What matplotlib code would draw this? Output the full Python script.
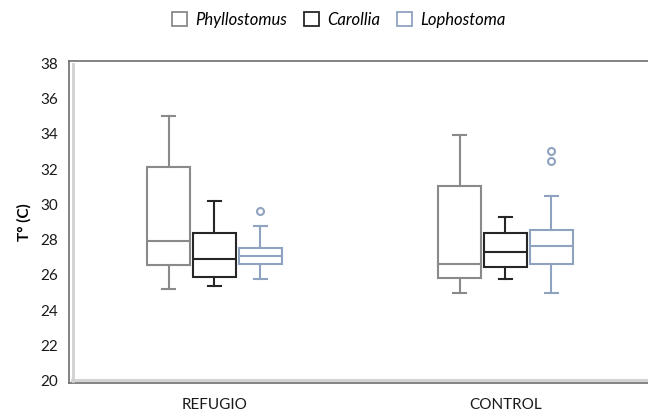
import matplotlib.pyplot as plt
from matplotlib.patches import Patch
from matplotlib.lines import Line2D

# summary values (deg C)
groups = ['REFUGIO', 'CONTROL']
species = ['Phyllostomus', 'Carollia', 'Lophostoma']
colors = ['#8a8a8a', '#262626', '#8fa3c0']

# per species: [REFUGIO, CONTROL]
whislo = {'Phyllostomus': [25.2, 24.95], 'Carollia': [25.4, 25.75], 'Lophostoma': [25.75, 24.95]}
q1 = {'Phyllostomus': [26.55, 25.85], 'Carollia': [25.9, 26.45], 'Lophostoma': [26.6, 26.6]}
med = {'Phyllostomus': [27.9, 26.6], 'Carollia': [26.9, 27.3], 'Lophostoma': [27.1, 27.65]}
q3 = {'Phyllostomus': [32.1, 31.05], 'Carollia': [28.4, 28.35], 'Lophostoma': [27.5, 28.55]}
whishi = {'Phyllostomus': [35.0, 33.95], 'Carollia': [30.2, 29.3], 'Lophostoma': [28.8, 30.5]}
fliers = {'Phyllostomus': [[], []], 'Carollia': [[], []], 'Lophostoma': [[29.65], [33.05, 32.45]]}

plt.rcParams['font.family'] = ['Lato', 'DejaVu Sans']

fig = plt.figure(figsize=(6.48, 4.16), dpi=100)
ax = fig.add_axes([69 / 648, 33 / 416, 582 / 648, 322 / 416])

offsets = [-0.158, 0, 0.158]
for k, sp in enumerate(species):
    stats = []
    for g in range(len(groups)):
        stats.append({'whislo': whislo[sp][g], 'q1': q1[sp][g], 'med': med[sp][g],
                      'q3': q3[sp][g], 'whishi': whishi[sp][g], 'fliers': fliers[sp][g]})
    c = colors[k]
    ax.bxp(stats, positions=[g + offsets[k] for g in range(len(groups))],
           widths=0.145, capwidths=0.042, patch_artist=True,
           boxprops=dict(facecolor='white', edgecolor=c, linewidth=1.5),
           whiskerprops=dict(color=c, linewidth=1.5),
           capprops=dict(color=c, linewidth=1.5),
           medianprops=dict(color=c, linewidth=1.5),
           flierprops=dict(marker='o', markerfacecolor='white', markeredgecolor=c,
                           markersize=5, markeredgewidth=1.5))

ax.set_xlim(-0.5, 1.5)
ax.set_ylim(19.88, 38.12)
ax.set_yticks(range(20, 39, 2))
ax.set_xticks(range(len(groups)))
ax.set_xticklabels(groups)
ax.tick_params(length=0, labelsize=11, colors='#1a1a1a')
ax.tick_params(axis='x', pad=11)
ax.tick_params(axis='y', pad=8)
ax.set_ylabel('T° (C)', fontsize=11, fontweight='bold', labelpad=6)

for s in ['left', 'top', 'bottom']:
    ax.spines[s].set_color('#6e6e6e')
    ax.spines[s].set_linewidth(1.2)
ax.spines['right'].set_visible(False)

# light inner shadow of the plot frame
fig.add_artist(Line2D([72.5 / 648, 72.5 / 648], [35 / 416, 352 / 416],
                      color='#d0d0d0', linewidth=2.0, transform=fig.transFigure))
fig.add_artist(Line2D([72 / 648, 1.0], [36 / 416, 36 / 416],
                      color='#d0d0d0', linewidth=2.0, transform=fig.transFigure))

handles = [Patch(facecolor='white', edgecolor=c, linewidth=1.3) for c in colors]
fig.legend(handles, species, loc='center', bbox_to_anchor=(0.523, 0.953), ncol=3,
           frameon=False, prop={'style': 'italic', 'size': 12},
           handlelength=0.9, handleheight=0.9, handletextpad=0.5, columnspacing=1.0)

fig.savefig('out.png', dpi=100)
